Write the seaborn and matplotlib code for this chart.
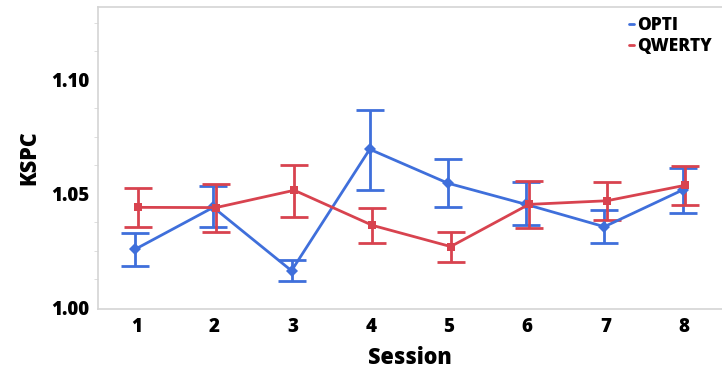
import numpy as np
import pandas as pd
import seaborn as sns
import matplotlib.pyplot as plt
from matplotlib import ticker

sessions = [1, 2, 3, 4, 5, 6, 7, 8]
opti_mean = [1.0257, 1.0441, 1.0163, 1.0696, 1.0547, 1.0454, 1.0356, 1.0517]
opti_low = [1.0184, 1.0356, 1.0118, 1.0517, 1.0443, 1.0362, 1.0283, 1.0418]
opti_high = [1.0327, 1.0535, 1.0209, 1.0869, 1.0652, 1.0551, 1.0428, 1.0614]
qwerty_mean = [1.0441, 1.0440, 1.0516, 1.0362, 1.0269, 1.0454, 1.0470, 1.0538]
qwerty_low = [1.0356, 1.0334, 1.0400, 1.0286, 1.0201, 1.0352, 1.0387, 1.0451]
qwerty_high = [1.0524, 1.0545, 1.0628, 1.0438, 1.0332, 1.0555, 1.0551, 1.0624]

blue = '#3F6FDB'
red = '#D8434F'

df = pd.concat([
    pd.DataFrame({'Session': sessions, 'KSPC': opti_mean, 'lo': opti_low, 'hi': opti_high, 'Layout': 'OPTI'}),
    pd.DataFrame({'Session': sessions, 'KSPC': qwerty_mean, 'lo': qwerty_low, 'hi': qwerty_high, 'Layout': 'QWERTY'}),
])
# small dodge like the original
df['x'] = df['Session'] + np.where(df['Layout'] == 'OPTI', -0.015, 0.02)

sns.set_style('white')
plt.rcParams['font.family'] = ['Open Sans', 'DejaVu Sans']
plt.rcParams['font.weight'] = 'heavy'
plt.rcParams['axes.labelweight'] = 'heavy'
plt.rcParams['text.color'] = 'black'
plt.rcParams['axes.labelcolor'] = 'black'
plt.rcParams['xtick.labelcolor'] = 'black'
plt.rcParams['ytick.labelcolor'] = 'black'

fig = plt.figure(figsize=(7.22, 3.73), dpi=100)
ax = fig.add_axes([0.1357, 0.1716, 0.8643, 0.8095])

palette = {'OPTI': blue, 'QWERTY': red}
markers = {'OPTI': 'D', 'QWERTY': 's'}
for name, g in df.groupby('Layout'):
    ax.errorbar(g['x'], g['KSPC'], yerr=[g['KSPC'] - g['lo'], g['hi'] - g['KSPC']],
                fmt='none', ecolor=palette[name], elinewidth=2, capsize=10, capthick=2, zorder=2)
sns.lineplot(data=df, x='x', y='KSPC', hue='Layout', style='Layout', palette=palette,
             markers=markers, dashes=False, markersize=6, markeredgewidth=0,
             linewidth=2, ax=ax, zorder=3)

ax.set_xlim(0.51, 8.49)
ax.set_ylim(0.9995, 1.132)
ax.set_xticks(sessions)
ax.yaxis.set_major_locator(ticker.FixedLocator([1.00, 1.05, 1.10]))
ax.yaxis.set_major_formatter(ticker.FormatStrFormatter('%.2f'))
ax.yaxis.set_minor_locator(ticker.MultipleLocator(0.0125))
ax.tick_params(axis='both', which='major', labelsize=13.5, length=3, color='#d0d0d0',
               labelcolor='black', pad=3)
ax.tick_params(axis='y', which='minor', length=3, color='#d8d8d8', left=True)
ax.tick_params(axis='x', length=0, pad=6)

ax.set_xlabel('Session', fontsize=15.5, fontweight='heavy', labelpad=6)
ax.set_ylabel('KSPC', fontsize=15.5, fontweight='heavy', labelpad=7)

for s in ['left', 'bottom', 'top']:
    ax.spines[s].set_color('#d4d4d4')
    ax.spines[s].set_linewidth(1.2)
ax.spines['right'].set_visible(False)

handles = [plt.Line2D([], [], color=blue, lw=2), plt.Line2D([], [], color=red, lw=2)]
ax.legend(handles, ['OPTI', 'QWERTY'], loc='upper right', frameon=False,
          handlelength=0.3, handletextpad=0.15, labelspacing=0.2,
          borderaxespad=0.2, prop={'weight': 'heavy', 'size': 12.5})

fig.savefig('out.png', dpi=100)
